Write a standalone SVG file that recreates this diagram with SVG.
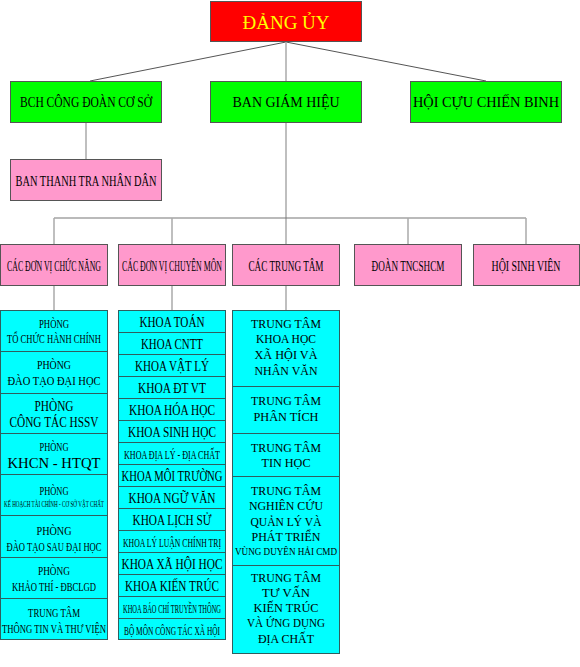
<svg xmlns="http://www.w3.org/2000/svg" width="580" height="667" viewBox="0 0 580 667">
<style>
text{font-family:"Liberation Serif","Times New Roman",serif;fill:#000;text-anchor:middle}
.red{fill:#ff0000;stroke:#555;stroke-width:1}
.grn{fill:#00ff00;stroke:#555;stroke-width:1}
.pnk{fill:#ff99cc;stroke:#555;stroke-width:1}
.cyn{fill:#00ffff;stroke:#2f5f5f;stroke-width:1}
.sep{stroke:#2f5f5f;stroke-width:1}
.v{stroke:#aaa;stroke-width:1.5;fill:none}
.h{stroke:#777;stroke-width:1.2;fill:none}
.d{stroke:#555;stroke-width:1;fill:none}
.t12{font-size:12.5px}
.t13{font-size:13.5px}
.t14{font-size:14.5px}
.t15{font-size:15px}
</style>
<rect width="580" height="667" fill="#fff"/>
<g id="connectors">
<line class="d" x1="286" y1="42" x2="90" y2="81"/>
<line class="d" x1="286" y1="42" x2="486" y2="81"/>
<line class="v" x1="286" y1="42" x2="286" y2="81"/>
<line class="v" x1="86" y1="122" x2="86" y2="159"/>
<line class="v" x1="286" y1="122" x2="286" y2="244"/>
<line class="h" x1="54" y1="218" x2="526" y2="218"/>
<line class="v" x1="54" y1="218" x2="54" y2="244"/>
<line class="v" x1="172" y1="218" x2="172" y2="244"/>
<line class="v" x1="408" y1="218" x2="408" y2="244"/>
<line class="v" x1="526" y1="218" x2="526" y2="244"/>
<line class="v" x1="54" y1="286" x2="54" y2="310"/>
<line class="v" x1="172" y1="286" x2="172" y2="310"/>
<line class="v" x1="286" y1="286" x2="286" y2="310"/>
</g>
<g id="dang-uy">
<rect class="red" x="210.5" y="1.5" width="151" height="40"/>
<text x="286" y="29" style="font-size:19px;fill:#ffff00" textLength="87" lengthAdjust="spacingAndGlyphs">ĐẢNG ỦY</text>
</g>
<g id="bch-cong-doan">
<rect class="grn" x="10.5" y="81.5" width="151" height="41"/>
<text x="86" y="107" class="t15" textLength="132" lengthAdjust="spacingAndGlyphs">BCH CÔNG ĐOÀN CƠ SỞ</text>
</g>
<g id="ban-giam-hieu">
<rect class="grn" x="210.5" y="81.5" width="151" height="41"/>
<text x="286" y="107" class="t15" textLength="107" lengthAdjust="spacingAndGlyphs">BAN GIÁM HIỆU</text>
</g>
<g id="hoi-cuu-chien-binh">
<rect class="grn" x="410.5" y="81.5" width="151" height="41"/>
<text x="486" y="107" class="t15" textLength="146" lengthAdjust="spacingAndGlyphs">HỘI CỰU CHIẾN  BINH</text>
</g>
<g id="ban-thanh-tra">
<rect class="pnk" x="10.5" y="159.5" width="151" height="41"/>
<text x="86" y="186" class="t15" textLength="141" lengthAdjust="spacingAndGlyphs">BAN THANH TRA NHÂN DÂN</text>
</g>
<g id="don-vi-chuc-nang">
<rect class="pnk" x="0.5" y="244.5" width="107" height="41"/>
<text x="54" y="271" class="t14" textLength="94" lengthAdjust="spacingAndGlyphs">CÁC ĐƠN VỊ CHỨC NĂNG</text>
</g>
<g id="don-vi-chuyen-mon">
<rect class="pnk" x="118.5" y="244.5" width="107" height="41"/>
<text x="172" y="271" class="t14" textLength="100" lengthAdjust="spacingAndGlyphs">CÁC ĐƠN VỊ CHUYÊN MÔN</text>
</g>
<g id="cac-trung-tam">
<rect class="pnk" x="232.5" y="244.5" width="107" height="41"/>
<text x="286" y="271" class="t14" textLength="75" lengthAdjust="spacingAndGlyphs">CÁC TRUNG TÂM</text>
</g>
<g id="doan-tncshcm">
<rect class="pnk" x="354.5" y="244.5" width="107" height="41"/>
<text x="408" y="271" class="t14" textLength="73" lengthAdjust="spacingAndGlyphs">ĐOÀN TNCSHCM</text>
</g>
<g id="hoi-sinh-vien">
<rect class="pnk" x="473.5" y="244.5" width="106" height="41"/>
<text x="526" y="271" class="t14" textLength="69" lengthAdjust="spacingAndGlyphs">HỘI SINH VIÊN</text>
</g>
<g id="col-chuc-nang">
<rect class="cyn" x="0.5" y="310.5" width="107" height="329"/>
<line class="sep" x1="0.5" y1="351.5" x2="107.5" y2="351.5"/>
<line class="sep" x1="0.5" y1="393.5" x2="107.5" y2="393.5"/>
<line class="sep" x1="0.5" y1="433.5" x2="107.5" y2="433.5"/>
<line class="sep" x1="0.5" y1="474.5" x2="107.5" y2="474.5"/>
<line class="sep" x1="0.5" y1="515.5" x2="107.5" y2="515.5"/>
<line class="sep" x1="0.5" y1="557.5" x2="107.5" y2="557.5"/>
<line class="sep" x1="0.5" y1="598.5" x2="107.5" y2="598.5"/>
<text x="54" y="328" class="t12" textLength="30" lengthAdjust="spacingAndGlyphs">PHÒNG</text>
<text x="54" y="343" class="t12" textLength="94" lengthAdjust="spacingAndGlyphs">TỔ CHỨC HÀNH CHÍNH</text>
<text x="54" y="369" class="t13" textLength="34" lengthAdjust="spacingAndGlyphs">PHÒNG</text>
<text x="54" y="385" class="t13" textLength="93" lengthAdjust="spacingAndGlyphs">ĐÀO TẠO ĐẠI HỌC</text>
<text x="54" y="411" class="t14" textLength="39" lengthAdjust="spacingAndGlyphs">PHÒNG</text>
<text x="54" y="427" class="t14" textLength="89" lengthAdjust="spacingAndGlyphs">CÔNG TÁC HSSV</text>
<text x="54" y="451" class="t12" textLength="29" lengthAdjust="spacingAndGlyphs">PHÒNG</text>
<text x="54" y="468" style="font-size:15px" textLength="93" lengthAdjust="spacingAndGlyphs">KHCN - HTQT</text>
<text x="54" y="495" class="t12" textLength="29" lengthAdjust="spacingAndGlyphs">PHÒNG</text>
<text x="54" y="507" style="font-size:8px" textLength="100" lengthAdjust="spacingAndGlyphs">KẾ HOẠCH TÀI CHÍNH - CƠ SỞ VẬT CHẤT</text>
<text x="54" y="535" class="t13" textLength="35" lengthAdjust="spacingAndGlyphs">PHÒNG</text>
<text x="54" y="551" class="t13" textLength="95" lengthAdjust="spacingAndGlyphs">ĐÀO TẠO SAU ĐẠI HỌC</text>
<text x="54" y="575" class="t13" textLength="32" lengthAdjust="spacingAndGlyphs">PHÒNG</text>
<text x="54" y="591" class="t13" textLength="84" lengthAdjust="spacingAndGlyphs">KHẢO THÍ - ĐBCLGD</text>
<text x="54" y="617" class="t13" textLength="52" lengthAdjust="spacingAndGlyphs">TRUNG TÂM</text>
<text x="54" y="633" class="t13" textLength="104" lengthAdjust="spacingAndGlyphs">THÔNG TIN VÀ THƯ VIỆN</text>
</g>
<g id="col-chuyen-mon">
<rect class="cyn" x="118.5" y="310.5" width="107" height="329"/>
<line class="sep" x1="118.5" y1="332.5" x2="225.5" y2="332.5"/>
<line class="sep" x1="118.5" y1="354.5" x2="225.5" y2="354.5"/>
<line class="sep" x1="118.5" y1="376.5" x2="225.5" y2="376.5"/>
<line class="sep" x1="118.5" y1="398.5" x2="225.5" y2="398.5"/>
<line class="sep" x1="118.5" y1="420.5" x2="225.5" y2="420.5"/>
<line class="sep" x1="118.5" y1="442.5" x2="225.5" y2="442.5"/>
<line class="sep" x1="118.5" y1="464.5" x2="225.5" y2="464.5"/>
<line class="sep" x1="118.5" y1="486.5" x2="225.5" y2="486.5"/>
<line class="sep" x1="118.5" y1="508.5" x2="225.5" y2="508.5"/>
<line class="sep" x1="118.5" y1="530.5" x2="225.5" y2="530.5"/>
<line class="sep" x1="118.5" y1="552.5" x2="225.5" y2="552.5"/>
<line class="sep" x1="118.5" y1="574.5" x2="225.5" y2="574.5"/>
<line class="sep" x1="118.5" y1="596.5" x2="225.5" y2="596.5"/>
<line class="sep" x1="118.5" y1="618.5" x2="225.5" y2="618.5"/>
<text x="172" y="327" class="t14" textLength="65" lengthAdjust="spacingAndGlyphs">KHOA TOÁN</text>
<text x="172" y="349" class="t14" textLength="62" lengthAdjust="spacingAndGlyphs">KHOA CNTT</text>
<text x="172" y="371" class="t14" textLength="74" lengthAdjust="spacingAndGlyphs">KHOA VẬT LÝ</text>
<text x="172" y="393" class="t14" textLength="68" lengthAdjust="spacingAndGlyphs">KHOA ĐT VT</text>
<text x="172" y="415" class="t14" textLength="86" lengthAdjust="spacingAndGlyphs">KHOA HÓA HỌC</text>
<text x="172" y="437" class="t14" textLength="88" lengthAdjust="spacingAndGlyphs">KHOA SINH HỌC</text>
<text x="172" y="459" class="t13" textLength="96" lengthAdjust="spacingAndGlyphs">KHOA ĐỊA LÝ - ĐỊA CHẤT</text>
<text x="172" y="481" class="t14" textLength="101" lengthAdjust="spacingAndGlyphs">KHOA MÔI TRƯỜNG</text>
<text x="172" y="503" class="t14" textLength="87" lengthAdjust="spacingAndGlyphs">KHOA NGỮ VĂN</text>
<text x="172" y="525" class="t14" textLength="79" lengthAdjust="spacingAndGlyphs">KHOA LỊCH SỬ</text>
<text x="172" y="547" class="t13" textLength="98" lengthAdjust="spacingAndGlyphs">KHOA LÝ LUẬN CHÍNH TRỊ</text>
<text x="172" y="569" class="t15" textLength="101" lengthAdjust="spacingAndGlyphs">KHOA XÃ HỘI HỌC</text>
<text x="172" y="591" class="t14" textLength="94" lengthAdjust="spacingAndGlyphs">KHOA KIẾN TRÚC</text>
<text x="172" y="613" class="t12" textLength="98" lengthAdjust="spacingAndGlyphs">KHOA BÁO CHÍ TRUYỀN THÔNG</text>
<text x="172" y="635" class="t12" textLength="96" lengthAdjust="spacingAndGlyphs">BỘ MÔN CÔNG TÁC XÃ HỘI</text>
</g>
<g id="col-trung-tam">
<rect class="cyn" x="232.5" y="310.5" width="107" height="343"/>
<line class="sep" x1="232.5" y1="386.5" x2="339.5" y2="386.5"/>
<line class="sep" x1="232.5" y1="433.5" x2="339.5" y2="433.5"/>
<line class="sep" x1="232.5" y1="476.5" x2="339.5" y2="476.5"/>
<line class="sep" x1="232.5" y1="565.5" x2="339.5" y2="565.5"/>
<text x="286" y="328" class="t13" textLength="70" lengthAdjust="spacingAndGlyphs">TRUNG TÂM</text>
<text x="286" y="343" class="t13" textLength="60" lengthAdjust="spacingAndGlyphs">KHOA HỌC</text>
<text x="286" y="359" class="t13" textLength="63" lengthAdjust="spacingAndGlyphs">XÃ HỘI VÀ</text>
<text x="286" y="375" class="t13" textLength="63" lengthAdjust="spacingAndGlyphs">NHÂN VĂN</text>
<text x="286" y="405" class="t13" textLength="70" lengthAdjust="spacingAndGlyphs">TRUNG TÂM</text>
<text x="286" y="421" class="t13" textLength="65" lengthAdjust="spacingAndGlyphs">PHÂN TÍCH</text>
<text x="286" y="452" class="t13" textLength="70" lengthAdjust="spacingAndGlyphs">TRUNG TÂM</text>
<text x="286" y="467" class="t13" textLength="49" lengthAdjust="spacingAndGlyphs">TIN HỌC</text>
<text x="286" y="495" class="t13" textLength="70" lengthAdjust="spacingAndGlyphs">TRUNG TÂM</text>
<text x="286" y="510" class="t13" textLength="74" lengthAdjust="spacingAndGlyphs">NGHIÊN CỨU</text>
<text x="286" y="526" class="t13" textLength="71" lengthAdjust="spacingAndGlyphs">QUẢN LÝ VÀ</text>
<text x="286" y="541" class="t13" textLength="69" lengthAdjust="spacingAndGlyphs">PHÁT TRIỂN</text>
<text x="286" y="555" style="font-size:10.5px" textLength="102" lengthAdjust="spacingAndGlyphs">VÙNG DUYÊN HẢI CMD</text>
<text x="286" y="582" class="t13" textLength="70" lengthAdjust="spacingAndGlyphs">TRUNG TÂM</text>
<text x="286" y="597" class="t13" textLength="48" lengthAdjust="spacingAndGlyphs">TƯ VẤN</text>
<text x="286" y="612" class="t13" textLength="65" lengthAdjust="spacingAndGlyphs">KIẾN TRÚC</text>
<text x="286" y="627" class="t13" textLength="78" lengthAdjust="spacingAndGlyphs">VÀ ỨNG DỤNG</text>
<text x="286" y="643" class="t13" textLength="56" lengthAdjust="spacingAndGlyphs">ĐỊA CHẤT</text>
</g>
</svg>
